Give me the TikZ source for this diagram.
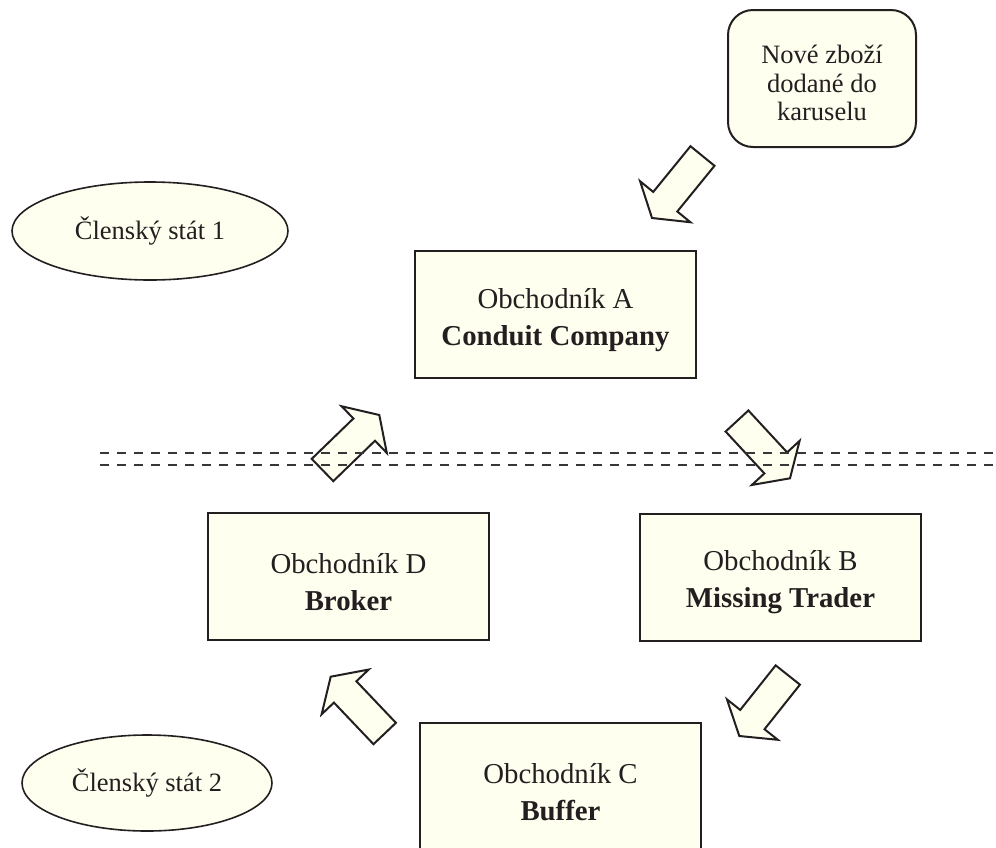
\documentclass[tikz,border=0pt]{standalone}
\usepackage{fontspec}
\setmainfont{Liberation Serif}
\usetikzlibrary{calc,shapes.geometric}
\definecolor{fillc}{RGB}{255,255,240}
\definecolor{linec}{RGB}{35,31,32}
\definecolor{dashc}{RGB}{55,55,55}
\newcommand\topgap[1]{\rule{0pt}{#1}}
\newcommand\blockarr[3]{%
  \coordinate (#1t) at (#2);
  \coordinate (#1p) at (#3);
  \coordinate (#1b) at ($(#1p)!21pt!(#1t)$);
  \draw[barrow] ($(#1t)!15.5pt!90:(#1p)$) -- ($(#1b)!15.5pt!90:(#1p)$)
     -- ($(#1b)!32.5pt!90:(#1p)$) -- (#1p) -- ($(#1b)!32.5pt!-90:(#1p)$)
     -- ($(#1b)!15.5pt!-90:(#1p)$) -- ($(#1t)!15.5pt!-90:(#1p)$) -- cycle;
}
\begin{document}
\begin{tikzpicture}[x=1pt,y=-1pt,
  box/.style={draw=linec, line width=2pt, fill=fillc, text=linec, align=center,
    minimum width=281pt, minimum height=127pt, inner sep=0pt,
    font=\fontsize{28.8}{37}\selectfont},
  rbox/.style={draw=linec, line width=2pt, fill=fillc, text=linec, align=center,
    rounded corners=25pt, minimum width=188pt, minimum height=137pt, inner sep=0pt,
    font=\fontsize{26.5}{28.5}\selectfont},
  ell/.style={ellipse, draw=linec, line width=1.6pt, fill=fillc, text=linec,
    inner sep=0pt, font=\fontsize{26.5}{30}\selectfont},
  barrow/.style={draw=linec, line width=2pt, fill=fillc, line join=miter},
  sep/.style={draw=dashc, line width=2.2pt, dash pattern=on 9pt off 8pt}]
\useasboundingbox (0,0) rectangle (996,847);

\node[rbox] (N) at (822,78.5) {\topgap{28pt}Nové zboží\\dodané do\\karuselu};
\node[ell, minimum width=276pt, minimum height=98pt] (S1) at (150,231) {Členský stát 1};
\node[ell, minimum width=250pt, minimum height=96pt] (S2) at (147,783) {Členský stát 2};

\node[box] (A) at (555.5,314.5) {\topgap{31pt}Obchodník A\\\textbf{Conduit Company}};
\node[box] (D) at (348.5,576.5) {\topgap{31pt}Obchodník D\\\textbf{Broker}};
\node[box] (B) at (780.5,577) {\topgap{31pt}Obchodník B\\\textbf{Missing Trader}};
\node[box] (C) at (560.5,786.5) {\topgap{31pt}Obchodník C\\\textbf{Buffer}};

\blockarr{a1}{702.5,156}{652,218}
\blockarr{a2}{322.5,470}{379.3,415}
\blockarr{a3}{737,421}{790,478.3}
\blockarr{a4}{384.7,733.5}{330.7,676.7}
\blockarr{a5}{787.8,675}{739.3,736}

\coordinate (L1s) at (100,453);
\coordinate (L1e) at (996,453);
\coordinate (L2s) at (100,465);
\coordinate (L2e) at (996,465);
\draw[sep] (L1s) -- (L1e);
\draw[sep] (L2s) -- (L2e);
\end{tikzpicture}
\end{document}
